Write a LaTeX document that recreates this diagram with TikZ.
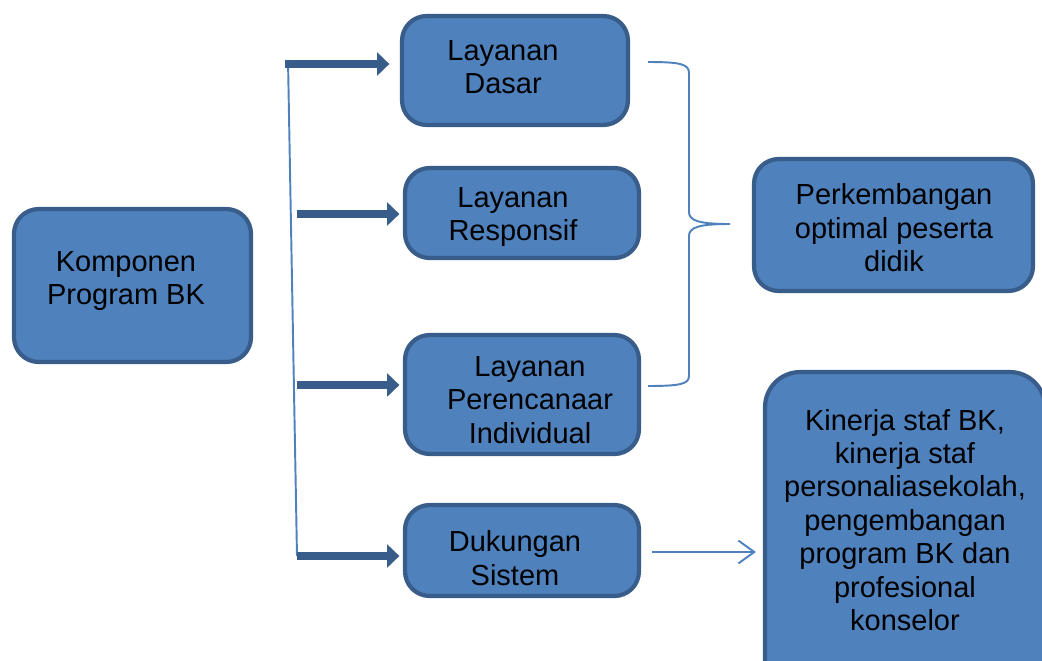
\documentclass[tikz,border=0pt]{standalone}
\usepackage{fontspec}
\setmainfont{Liberation Sans}
\usetikzlibrary{arrows.meta,calc,positioning}
\definecolor{BoxFill}{HTML}{4F81BD}
\definecolor{BoxEdge}{HTML}{385D8A}
\definecolor{Thin}{HTML}{4F81BD}
\tikzset{
  comp/.style={
    rounded corners=14pt, draw=BoxEdge, line width=2.4pt, fill=BoxFill,
    inner sep=0pt
  },
  label/.style={
    align=center, text=black, font=\fontsize{16.5}{19}\selectfont, inner sep=0pt
  },
  fatflow/.style={-{Triangle[length=7pt,width=13pt]}, line width=5pt, draw=BoxEdge},
  thinflow/.style={-{Straight Barb[length=9pt,width=13pt]}, line width=1.1pt, draw=Thin},
  trunk/.style={line width=1.1pt, draw=Thin}
}
\begin{document}
\begin{tikzpicture}[x=0.02cm,y=-0.02cm]
    \useasboundingbox (0,0) rectangle (1042,660);
    % boxes
    \node[comp,minimum width=4.74cm,minimum height=3.06cm] (komp) at (132.5,285.5) {};
    \node[comp,minimum width=4.52cm,minimum height=2.18cm] (dasar) at (515,70.5) {};
    \node[comp,minimum width=4.68cm,minimum height=1.80cm] (resp) at (522,213) {};
    \node[comp,minimum width=4.68cm,minimum height=2.38cm] (renc) at (522,394.5) {};
    \node[comp,minimum width=4.68cm,minimum height=1.82cm] (duk) at (522,550.5) {};
    \node[comp,minimum width=5.58cm,minimum height=2.64cm] (perk) at (893.5,225) {};
    \node[comp,rounded corners=20pt,minimum width=5.6cm,minimum height=6.6cm] (kin) at (905,537) {};
    % texts
    \node[label] (kompT) at (126,281) {Komponen\\Program BK};
    \node[label] (dasarT) at (503,67) {Layanan\\Dasar};
    \node[label] (respT) at (513,217) {Layanan\\Responsif};
    \node[label] (rencT) at (530,400) {Layanan\\Perencanaar\\Individual};
    \node[label] (dukT) at (515,558) {Dukungan\\Sistem};
    \node[label] (perkT) at (894,228) {Perkembangan\\optimal peserta\\didik};
    \node[label] (kinT) at (905,520) {Kinerja staf BK,\\kinerja staf\\personaliasekolah,\\pengembangan\\program BK dan\\profesional\\konselor};
    % trunk and arrows
    \coordinate (t1) at (285,64);
    \coordinate (t2) at (297,214);
    \coordinate (t3) at (297,385);
    \coordinate (t4) at (297,556);
    \draw[trunk] (288,60) -- (297,556);
    \draw[fatflow,shorten >=6pt] (t1) -- (t1 -| dasar.west);
    \draw[fatflow,shorten >=2pt] (t2) -- (t2 -| resp.west);
    \draw[fatflow,shorten >=2pt] (t3) -- (t3 -| renc.west);
    \draw[fatflow,shorten >=2pt] (t4) -- (t4 -| duk.west);
    % brace
    \coordinate (bt) at (648,62);
    \coordinate (bb) at (648,386);
    \coordinate (bp) at (730,224);
    \draw[trunk] (bt) .. controls (680,62) and (689,64) .. (689,73) -- (689,212)
      .. controls (689,221) and (700,224) .. (bp)
      .. controls (700,224) and (689,227) .. (689,236) -- (689,376)
      .. controls (689,384) and (680,386) .. (bb);
    \coordinate (ds) at (652,552);
    \draw[thinflow,shorten >=4pt] (ds) -- (ds -| kin.west);
\end{tikzpicture}
\end{document}
